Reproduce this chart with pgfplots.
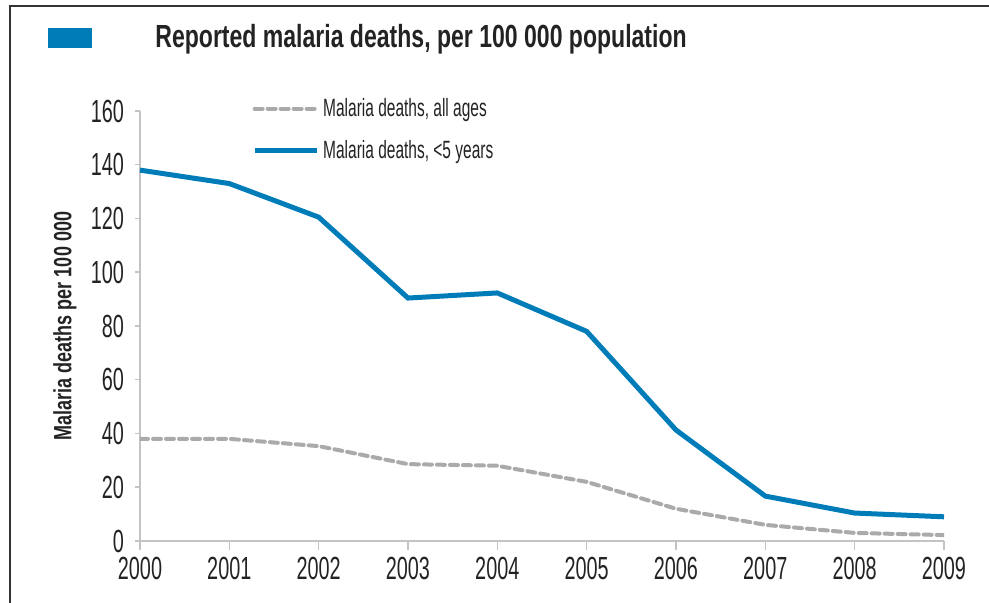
\documentclass[border=0pt]{standalone}
\usepackage{fontspec}
\setmainfont{Liberation Sans}[FakeStretch=0.72]
\newfontfamily\narrowfont{Liberation Sans}[FakeStretch=0.62]
\usepackage{pgfplots}
\pgfplotsset{compat=1.18}

\definecolor{whoblue}{RGB}{0,125,185}
\definecolor{dashgrey}{RGB}{170,170,170}
\definecolor{axisgrey}{RGB}{195,195,195}
\definecolor{ink}{RGB}{35,35,35}

\begin{document}
\begin{tikzpicture}
	\useasboundingbox (0,0) rectangle (494.5pt,301.5pt);
	% frame (top and left only)
	\draw[line width=1pt, black!80] (5pt,0pt) -- (5pt,298.5pt) -- (494.5pt,298.5pt);
	% title with blue marker
	\fill[whoblue] (24pt,277.5pt) rectangle (46pt,287.5pt);
	\node[anchor=base west, inner sep=0pt, text=ink, font=\bfseries\fontsize{16}{18}\selectfont]
		at (77.5pt,277.5pt) {Reported malaria deaths, per 100 000 population};

	\begin{axis}[
		at={(70pt,31pt)}, anchor=south west,
		scale only axis,
		width=402pt,
		height=215pt,
		xmin=2000, xmax=2009,
		ymin=0, ymax=160,
		xtick={2000,...,2009},
		ytick={0,20,...,160},
		axis lines=left,
		axis line style={axisgrey, line width=0.75pt, -},
		tick style={axisgrey, line width=0.75pt},
		tick align=outside,
		major tick length=4.5pt,
		ytick style={/pgfplots/major tick length=2.5pt},
		/pgf/number format/1000 sep={},
		/pgf/number format/assume math mode=true,
		ticklabel style={text=ink, font=\narrowfont\fontsize{16}{18}\selectfont},
		ylabel={Malaria deaths per 100 000},
		every axis y label/.style={at={(rel axis cs:0,0.5)}, xshift=-37.5pt,
			rotate=90, anchor=center, text=ink, font=\bfseries\fontsize{12.5}{14}\selectfont},
		legend style={at={(0.139,1.04)}, anchor=north west, draw=none, fill=none,
			inner sep=0pt, row sep=6.5pt, text=ink, font=\narrowfont\fontsize{12.5}{14}\selectfont},
		legend cell align=left,
		legend image code/.code={\draw[#1] (0pt,0pt) -- (31pt,0pt);},
	]
		% all ages
		\addplot[dashgrey, line width=2pt, dash pattern=on 4pt off 2.5pt, line cap=round] coordinates {
			(2000,38) (2001,38) (2002,35.3) (2003,28.6) (2004,28) (2005,22)
			(2006,12) (2007,6) (2008,3) (2009,2.2)};
		% under 5
		\addplot[whoblue, line width=2.5pt] coordinates {
			(2000,138) (2001,133) (2002,120.5) (2003,90.4) (2004,92.3) (2005,78)
			(2006,41.3) (2007,16.7) (2008,10.4) (2009,9)};
		\legend{{Malaria deaths, all ages}, {Malaria deaths, <5 years}}
	\end{axis}
\end{tikzpicture}
\end{document}
